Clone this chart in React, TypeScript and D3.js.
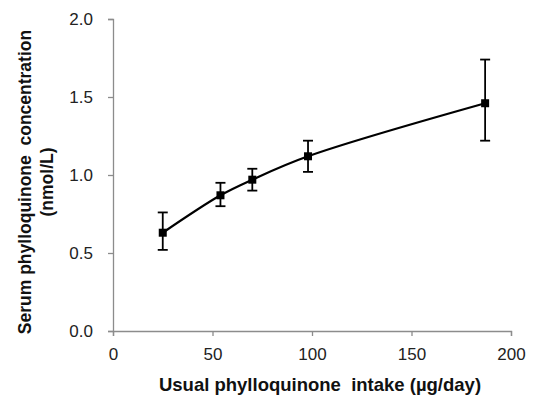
import React, { useRef, useEffect } from "react";
import * as d3 from "d3";

const intake = [25, 54, 70, 98, 187];
const serum = [0.63, 0.87, 0.97, 1.12, 1.46];
const errLow = [0.52, 0.8, 0.9, 1.02, 1.22];
const errHigh = [0.76, 0.95, 1.04, 1.22, 1.74];
const xTicks = [0, 50, 100, 150, 200];
const yTicks = [0, 0.5, 1.0, 1.5, 2.0];

export default function App() {
  const ref = useRef<SVGSVGElement>(null);

  useEffect(() => {
    const width = 533;
    const height = 410;
    const margin = { top: 19, right: 22, bottom: 79, left: 113 };

    const svg = d3.select(ref.current);
    svg.selectAll("*").remove();
    svg.attr("width", width).attr("height", height);

    const x = d3.scaleLinear().domain([0, 200]).range([margin.left, width - margin.right]);
    const y = d3.scaleLinear().domain([0, 2]).range([height - margin.bottom, margin.top]);

    const font = "Arial, 'Liberation Sans', sans-serif";
    const axisColor = "#8c8c8c";

    // axes
    const yAxis = svg.append("g")
      .attr("transform", `translate(${margin.left},0)`)
      .call(d3.axisLeft(y).tickValues(yTicks).tickSize(5).tickFormat(d3.format(".1f")));
    const xAxis = svg.append("g")
      .attr("transform", `translate(0,${height - margin.bottom})`)
      .call(d3.axisBottom(x).tickValues(xTicks).tickSize(5));

    [yAxis, xAxis].forEach(g => {
      g.select(".domain").attr("stroke", axisColor).attr("stroke-width", 1.3);
      g.selectAll(".tick line").attr("stroke", axisColor).attr("stroke-width", 1.3);
      g.selectAll(".tick text")
        .style("font-family", font)
        .style("font-size", "17px")
        .attr("fill", "#222");
    });
    yAxis.selectAll(".tick text").attr("x", -20);
    xAxis.selectAll(".tick text").attr("dy", null).attr("y", 29);

    const data = intake.map((v, i) => ({ x: v, y: serum[i], lo: errLow[i], hi: errHigh[i] }));

    // smooth line
    const line = d3.line<{ x: number; y: number }>()
      .x(d => x(d.x))
      .y(d => y(d.y))
      .curve(d3.curveCatmullRom.alpha(0.5));
    svg.append("path")
      .datum(data)
      .attr("d", line)
      .attr("fill", "none")
      .attr("stroke", "#000")
      .attr("stroke-width", 2.2);

    // error bars
    const eb = svg.append("g").attr("stroke", "#000").attr("stroke-width", 1.8);
    data.forEach(d => {
      eb.append("line").attr("x1", x(d.x)).attr("x2", x(d.x)).attr("y1", y(d.lo)).attr("y2", y(d.hi));
      eb.append("line").attr("x1", x(d.x) - 5).attr("x2", x(d.x) + 5).attr("y1", y(d.lo)).attr("y2", y(d.lo));
      eb.append("line").attr("x1", x(d.x) - 5).attr("x2", x(d.x) + 5).attr("y1", y(d.hi)).attr("y2", y(d.hi));
    });

    // markers
    svg.append("g")
      .selectAll("rect")
      .data(data)
      .enter()
      .append("rect")
      .attr("x", d => x(d.x) - 4)
      .attr("y", d => y(d.y) - 4)
      .attr("width", 8)
      .attr("height", 8)
      .attr("fill", "#000");

    // axis titles
    svg.append("text")
      .attr("x", 320)
      .attr("y", 391)
      .attr("text-anchor", "middle")
      .style("font-family", font)
      .style("font-size", "18.5px")
      .style("font-weight", "bold")
      .style("white-space", "pre")
      .attr("fill", "#111")
      .text("Usual phylloquinone  intake (µg/day)");

    const yt = svg.append("text")
      .attr("transform", `translate(0,182) rotate(-90)`)
      .attr("text-anchor", "middle")
      .style("font-family", font)
      .style("font-size", "17.5px")
      .style("font-weight", "bold")
      .style("white-space", "pre")
      .attr("fill", "#111");
    yt.append("tspan").attr("x", 0).attr("y", 31).text("Serum phylloquinone  concentration");
    yt.append("tspan").attr("x", 0).attr("y", 53).text("(nmol/L)");
  }, []);

  return (
    <div style={{ position: "absolute", left: 0, top: 0 }}>
      <svg ref={ref} style={{ display: "block", background: "#fff" }}></svg>
    </div>
  );
}
